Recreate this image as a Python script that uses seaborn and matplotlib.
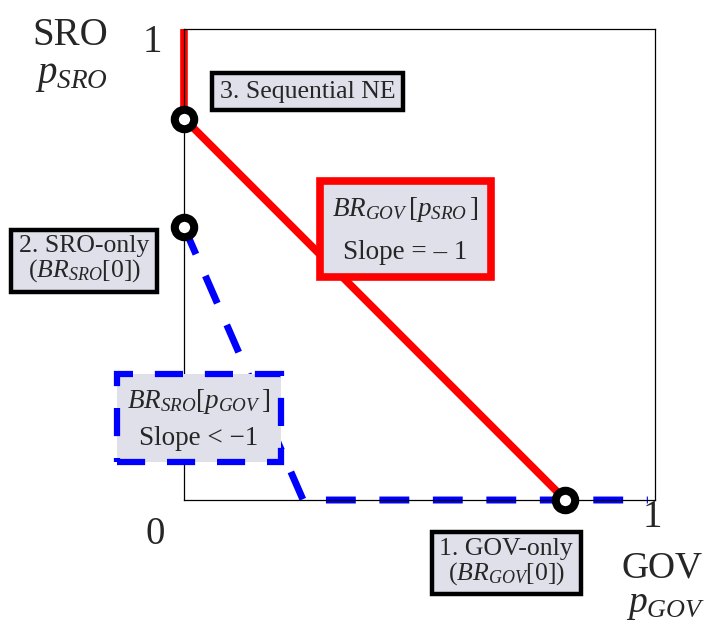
import matplotlib
matplotlib.use("Agg")
import matplotlib.pyplot as plt
import seaborn as sns

# best responses
gov_br_x = [0, 0, 0.81]      # BR_GOV[p_SRO], slope = -1
gov_br_y = [1, 0.81, 0]
sro_br_x = [0, 0.253, 0.985]  # BR_SRO[p_GOV], slope < -1
sro_br_y = [0.58, 0, 0]
pts_x = [0.81, 0, 0]          # 1. GOV-only, 2. SRO-only, 3. Sequential NE
pts_y = [0, 0.58, 0.81]

sns.set_style("white")
plt.rcParams['font.family'] = ['Liberation Serif', 'DejaVu Serif']
plt.rcParams['mathtext.fontset'] = 'custom'
plt.rcParams['mathtext.rm'] = 'Liberation Serif'
plt.rcParams['mathtext.it'] = 'Liberation Serif:italic'

fig = plt.figure(figsize=(7.06, 6.28), dpi=100)
ax = fig.add_axes([0.2606, 0.2038, 0.6671, 0.75])

sns.lineplot(x=gov_br_x, y=gov_br_y, sort=False, estimator=None, color='#ff0000',
             lw=5.5, ax=ax, zorder=2)
sns.lineplot(x=sro_br_x, y=sro_br_y, sort=False, estimator=None, color='#0000ff',
             lw=5, ax=ax, zorder=2, dashes=False)
ax.lines[-1].set_dashes((4.3, 3.4))
for ln in ax.lines:
    ln.set_clip_on(False)
    ln.set_solid_capstyle('butt')
ax.plot(pts_x, pts_y, 'o', ms=14, mfc='white', mec='black', mew=5.8,
        zorder=5, clip_on=False)

ax.set_xlim(0, 1)
ax.set_ylim(0, 1)
ax.set_xticks([])
ax.set_yticks([])
for s in ax.spines.values():
    s.set_color('black')
    s.set_linewidth(0.9)

fill = '#e0e0ea'
box_kw = dict(ha='center', va='center', fontsize=18.5, clip_on=False, zorder=6)

ax.text(0.262, 0.867, '3. Sequential NE',
        bbox=dict(boxstyle='square,pad=0.3', fc=fill, ec='black', lw=3.2), **box_kw)
ax.text(-0.212, 0.51, '2. SRO-only\n($BR_{SRO}$[0])', linespacing=1.0,
        bbox=dict(boxstyle='square,pad=0.3', fc=fill, ec='black', lw=3.2), **box_kw)
ax.text(0.684, -0.132, '1. GOV-only\n($BR_{GOV}$[0])', linespacing=1.0,
        bbox=dict(boxstyle='square,pad=0.3', fc=fill, ec='black', lw=3.2), **box_kw)
ax.text(0.47, 0.573, '$BR_{GOV}\\,[p_{SRO}\\,]$\nSlope = – 1', linespacing=1.85,
        fontsize=19.5, ha='center', va='center', clip_on=False, zorder=6,
        bbox=dict(boxstyle='square,pad=0.45', fc=fill, ec='#ff0000', lw=5.5))
ax.text(0.032, 0.172, '$BR_{SRO}[p_{GOV}\\,]$\nSlope < −1', linespacing=1.5,
        fontsize=19.5, ha='center', va='center', clip_on=False, zorder=6,
        bbox=dict(boxstyle='square,pad=0.4', fc=fill, ec='#0000ff', lw=4.5,
                  ls=(0, (4.5, 3.5))))

lab_kw = dict(ha='center', va='center', fontsize=28, clip_on=False)
ax.text(-0.242, 0.987, 'SRO', **lab_kw)
ax.text(-0.238, 0.902, '$p_{SRO}$', **lab_kw)
ax.text(-0.068, 0.972, '1', **lab_kw)
ax.text(-0.062, -0.074, '0', **lab_kw)
ax.text(0.994, -0.038, '1', **lab_kw)
ax.text(1.016, -0.144, 'GOV', fontsize=27, ha='center', va='center', clip_on=False)
ax.text(1.022, -0.222, '$p_{GOV}$', fontsize=27, ha='center', va='center', clip_on=False)

fig.savefig('out.png', dpi=100)
